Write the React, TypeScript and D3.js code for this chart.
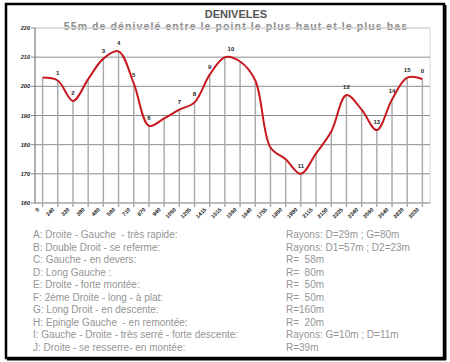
import React from "react";
import * as d3 from "d3";

const distances = ["0","240","320","390","480","580","710","870","940","1060","1205","1415","1515","1560","1640","1755","1860","1980","2115","2150","2225","2340","2560","2640","2820","3030"];
const altitudes = [203,202,195,202.5,209.5,212,201,186.5,189,192,194.5,204,210,208.5,202,179,175,170,177,184.5,197,192,185,195.5,203,202.5];
const pointLabels = ["","1","2","","3","4","5","6","","7","8","9","10","","","","","11","","","12","","13","14","15","0"];
const yTicks = [160,170,180,190,200,210,220];

const legendLeft = [
  "A: Droite - Gauche  - très rapide:",
  "B: Double Droit - se referme:",
  "C: Gauche - en devers:",
  "D: Long Gauche :",
  "E: Droite - forte montée:",
  "F: 2ème Droite - long - à plat:",
  "G: Long Droit - en descente:",
  "H: Epingle Gauche  - en remontée:",
  "I: Gauche - Droite - très serré - forte descente:",
  "J: Droite - se resserre- en montée:",
];
const legendRight = [
  "Rayons: D=29m ; G=80m",
  "Rayons: D1=57m ; D2=23m",
  "R=  58m",
  "R=  80m",
  "R=  50m",
  "R=  50m",
  "R=160m",
  "R=  20m",
  "Rayons: G=10m ; D=11m",
  "R=39m",
];

const W = 450, H = 362;
const plot = { left: 35, right: 430, top: 28, bottom: 203 };

export default function App() {
  const x = d3.scaleBand<string>().domain(distances).range([plot.left, plot.right]);
  const cx = (d: string) => (x(d) as number) + x.bandwidth() / 2;
  const y = d3.scaleLinear().domain([160, 220]).range([plot.bottom, plot.top]);
  const line = d3
    .line<number>()
    .x((_, i) => cx(distances[i]))
    .y((v) => y(v))
    .curve(d3.curveCatmullRom.alpha(0.5));
  const font = "'Liberation Sans', Arial, sans-serif";
  const legendY = d3.scaleLinear().domain([0, legendLeft.length - 1]).range([238, 351]);

  return (
    <svg width={W} height={H} style={{ position: "absolute", left: 0, top: 0, background: "#fff" }} fontFamily={font}>
      {/* frame */}
      <rect x={6} y={4} width={438} height={354} fill="#fff" stroke="#000" strokeWidth={2.5} />
      <line x1={445} y1={5} x2={445} y2={360} stroke="#000" strokeWidth={3} />
      <line x1={7} y1={359} x2={446} y2={359} stroke="#000" strokeWidth={3} />

      {/* titles */}
      <text x={236} y={18} textAnchor="middle" fontSize={11} fontWeight="bold" fill="#555">DENIVELES</text>
      <text x={236} y={29.5} textAnchor="middle" fontSize={10.5} fontWeight="bold" fill="#8a8a8a" letterSpacing={1.1}>
        55m de dénivelé entre le point le plus haut et le plus bas
      </text>

      {/* plot border */}
      <rect x={plot.left} y={plot.top} width={plot.right - plot.left} height={plot.bottom - plot.top} fill="none" stroke="#d4d4d4" strokeWidth={1} />

      {/* horizontal gridlines */}
      {yTicks.map((t) => (
        <g key={t}>
          <line x1={plot.left} x2={plot.right} y1={y(t)} y2={y(t)} stroke={t === 220 ? "#cfcfcf" : "#8c8c8c"} strokeWidth={1} />
          <line x1={plot.left - 4} x2={plot.left} y1={y(t)} y2={y(t)} stroke="#8c8c8c" strokeWidth={1} />
          <text x={plot.left - 5} y={y(t) + 2} textAnchor="end" fontSize={5.5} fontWeight="bold" fontStyle="italic" fill="#222">{t}</text>
        </g>
      ))}
      <line x1={plot.left} x2={plot.left} y1={plot.top} y2={plot.bottom} stroke="#8c8c8c" strokeWidth={1.2} />

      {/* drop lines & ticks */}
      {distances.map((d, i) => (
        <g key={d + i}>
          <line x1={cx(d)} x2={cx(d)} y1={plot.bottom + 4} y2={y(altitudes[i])} stroke="#a8a8a8" strokeWidth={1.4} />
          <text
            transform={`translate(${cx(d) - 3},${plot.bottom + 7}) rotate(-45)`}
            textAnchor="end"
            fontSize={5.5}
            fontWeight="bold"
            fill="#222"
          >
            {d}
          </text>
        </g>
      ))}

      {/* profile curve */}
      <path d={line(altitudes) || ""} fill="none" stroke="#c8191f" strokeWidth={2} />

      {/* point labels */}
      {pointLabels.map((l, i) =>
        l ? (
          <text key={"pl" + i} x={cx(distances[i]) + (l === "10" ? 6 : 0)} y={y(altitudes[i]) - 6} textAnchor="middle" fontSize={6} fontWeight="bold" fill="#222">
            {l}
          </text>
        ) : null
      )}

      {/* legend */}
      {legendLeft.map((t, i) => (
        <text key={"ll" + i} x={33} y={legendY(i)} fontSize={10} fill="#959595" style={{ whiteSpace: "pre" }}>{t}</text>
      ))}
      {legendRight.map((t, i) => (
        <text key={"lr" + i} x={286} y={legendY(i)} fontSize={10} fill="#959595" style={{ whiteSpace: "pre" }}>{t}</text>
      ))}
    </svg>
  );
}
